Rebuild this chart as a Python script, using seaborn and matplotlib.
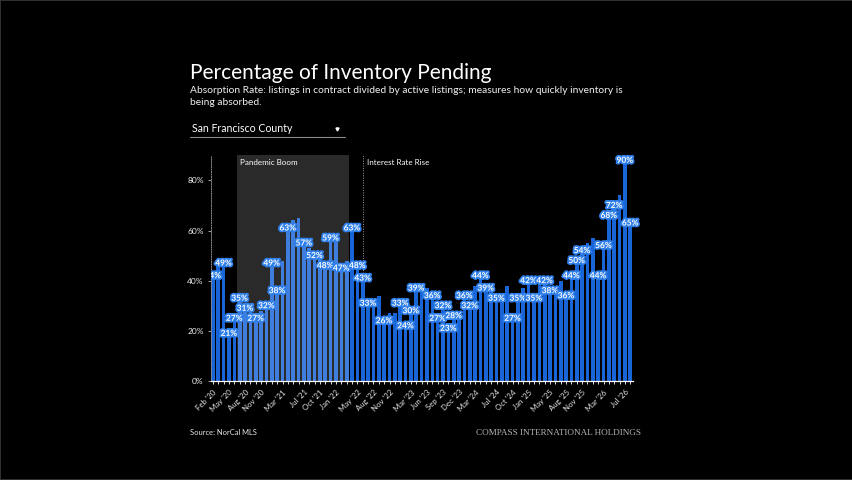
import pandas as pd
import seaborn as sns
import matplotlib.pyplot as plt
import matplotlib.patheffects as pe
from matplotlib.lines import Line2D
from matplotlib.patches import Rectangle

# monthly observations, Feb 2020 onwards
months = pd.date_range("2020-02-01", periods=79, freq="MS").strftime("%b '%y").tolist()
pending = [44, 46, 49, 21, 27, 35, 31, 30, 27, 28,
           32, 49, 38, 48, 63, 64, 65, 57, 53, 52,
           50, 48, 59, 57, 47, 48, 63, 48, 43, 33,
           32, 34, 26, 27, 27, 33, 24, 30, 39, 37,
           37, 36, 27, 32, 23, 28, 27, 36, 32, 38,
           44, 39, 38, 35, 35, 38, 27, 35, 37, 42,
           35, 39, 42, 38, 38, 40, 36, 44, 50, 54,
           55, 57, 44, 56, 68, 72, 74, 90, 65]
labelled = [0, 2, 3, 4, 5, 6, 8, 10, 11, 12, 14, 17, 19, 21, 22, 24, 26, 27, 28, 29,
            32, 35, 36, 37, 38, 41, 42, 43, 44, 45, 47, 48, 50, 51, 53, 56, 57, 59, 60,
            62, 63, 66, 67, 68, 69, 72, 73, 74, 75, 77, 78]
tick_labels = ["Feb '20", "May '20", "Aug '20", "Nov '20", "Mar '21", "Jul '21", "Oct '21",
               "Jan '22", "May '22", "Aug '22", "Nov '22", "Mar '23", "Jun '23", "Sep '23",
               "Dec '23", "Mar '24", "Jul '24", "Oct '24", "Jan '25", "May '25", "Aug '25",
               "Nov '25", "Mar '26", "Jul '26"]
y_ticks = [0, 20, 40, 60, 80]

df = pd.DataFrame({"month": months, "pending": pending})

sns.set_theme(style="dark")
plt.rcParams["font.family"] = ["Lato", "DejaVu Sans"]

W, H = 853, 480
fig = plt.figure(figsize=(W / 100, H / 100), dpi=100, facecolor="black")
ax = fig.add_axes([210.7 / W, 99 / H, 422 / W, 226 / H])
ax.set_facecolor("black")

bar_blue = "#1964d7"
sns.barplot(data=df, x="month", y="pending", color=bar_blue, saturation=1, width=0.68,
            edgecolor="none", linewidth=0, ax=ax, zorder=2)

ax.set_xlim(-0.42, 78.45)
ax.set_ylim(0, 90.1)

# pandemic boom shading (drawn over the bars so they look lighter)
ax.axvspan(4.5, 25.4, color="white", alpha=0.17, lw=0, zorder=3)
ax.text(5.1, 88.6, "Pandemic Boom", color="white", fontsize=5.8, va="top", zorder=5)
ax.plot([28, 28], [pending[28], 90.1], color="#9a9a9a", lw=0.7, ls=(0, (1, 1.5)), zorder=1)
ax.text(28.8, 88.6, "Interest Rate Rise", color="white", fontsize=5.8, va="top", zorder=5)

for i in labelled:
    # the first label runs into the axis and gets cut, as in the original
    t = ax.annotate(f"{pending[i]}%", (i, pending[i]), xytext=(0, -1.5), textcoords="offset pixels",
                    ha="center", va="top", color="white", fontsize=6, fontweight="bold",
                    zorder=6, annotation_clip=False, clip_on=(i == 0))
    t.set_path_effects([pe.withStroke(linewidth=2.6, foreground="#2f7fea")])

ax.set_yticks(y_ticks)
ax.set_yticklabels([f"{v}%" for v in y_ticks], color="#eeeeee", fontsize=6)
ax.set_xticks([months.index(m) for m in tick_labels])
ax.set_xticklabels(tick_labels, rotation=45, ha="right", rotation_mode="anchor",
                   color="#e6e6e6", fontsize=5.6)
ax.set_xticks(range(len(months)), minor=True)
ax.tick_params(axis="x", which="both", length=2.5, width=0.6, color="white", pad=3, bottom=True)
ax.tick_params(axis="y", length=2, width=0.6, color="#bbbbbb", pad=3, left=True)
ax.set_xlabel("")
ax.set_ylabel("")
ax.grid(False)

for s in ["top", "right"]:
    ax.spines[s].set_visible(False)
ax.spines["bottom"].set_color("white")
ax.spines["bottom"].set_linewidth(0.9)
ax.spines["left"].set_color("#8a8a8a")
ax.spines["left"].set_linewidth(0.7)
ax.spines["left"].set_linestyle((0, (1, 1.5)))

# header
fig.text(190 / W, 1 - 79 / H, "Percentage of Inventory Pending", color="white", fontsize=15, va="baseline")
fig.text(190 / W, 1 - 93 / H,
         "Absorption Rate: listings in contract divided by active listings; measures how quickly inventory is",
         color="#f0f0f0", fontsize=7.4, va="baseline")
fig.text(190 / W, 1 - 105 / H, "being absorbed.", color="#f0f0f0", fontsize=7.4, va="baseline")
fig.text(192 / W, 1 - 132 / H, "San Francisco County", color="white", fontsize=7.6, va="baseline")
fig.add_artist(Line2D([190 / W, 345 / W], [1 - 137 / H, 1 - 137 / H], color="#8c8c8c", lw=0.8))
fig.add_artist(Line2D([337 / W], [1 - 129 / H], marker="v", ms=2.2, color="white", lw=0))

# footer
fig.text(190 / W, 1 - 435 / H, "Source: NorCal MLS", color="#e6e6e6", fontsize=5.4, va="baseline")
fig.text(641 / W, 1 - 435 / H, "COMPASS INTERNATIONAL HOLDINGS",
         color="#b5b5b5", fontsize=6.6, va="baseline", ha="right", family="Liberation Serif")

fig.patches.append(Rectangle((0, 0), 1, 1, transform=fig.transFigure, fill=False,
                             edgecolor="#3a3a3a", lw=1.2))

fig.savefig("out.png", dpi=100, facecolor="black")
